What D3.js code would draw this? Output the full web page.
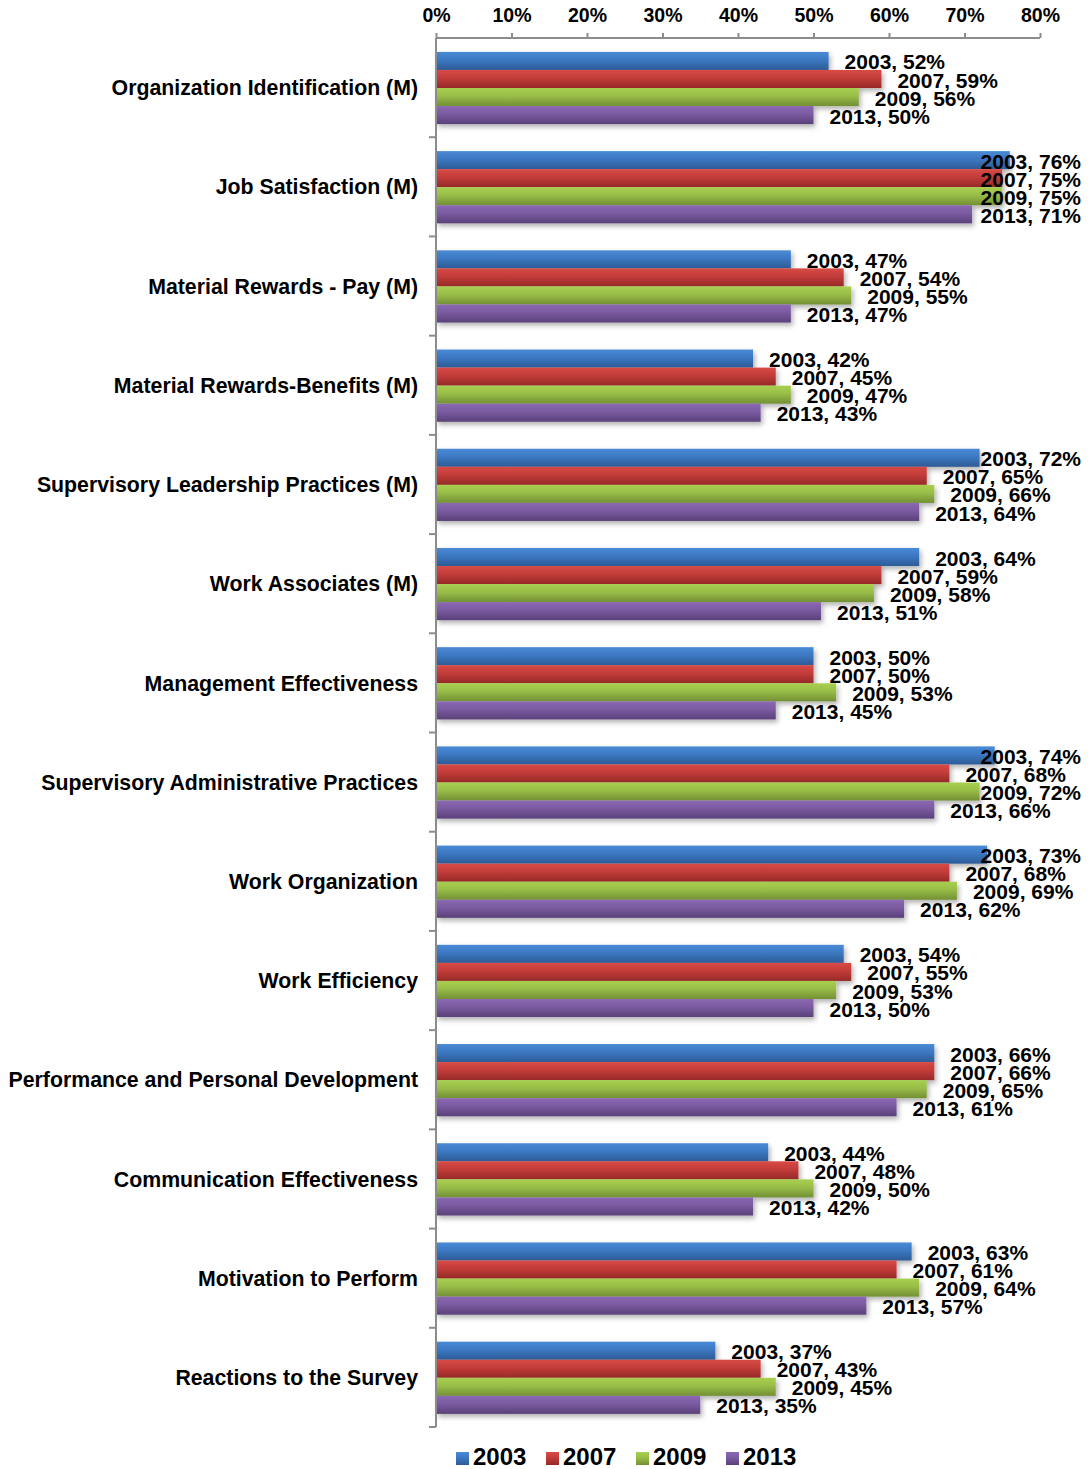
<!DOCTYPE html>
<html>
<head>
<meta charset="utf-8">
<script src="https://cdn.jsdelivr.net/npm/d3@7"></script>
<style>
  html, body { margin: 0; padding: 0; background: #fff; }
  svg { display: block; font-family: "Liberation Sans", Arial, sans-serif; font-weight: bold; }
</style>
</head>
<body>
<svg id="chart" width="1089" height="1469"></svg>
<script>
// Survey dimensions, top to bottom
const categories = [
  "Organization Identification (M)",
  "Job Satisfaction (M)",
  "Material Rewards - Pay (M)",
  "Material Rewards-Benefits (M)",
  "Supervisory Leadership Practices (M)",
  "Work Associates (M)",
  "Management Effectiveness",
  "Supervisory Administrative Practices",
  "Work Organization",
  "Work Efficiency",
  "Performance and Personal Development",
  "Communication Effectiveness",
  "Motivation to Perform",
  "Reactions to the Survey"
];

const years = ["2003", "2007", "2009", "2013"];

// Percent favorable per survey year
const values2003 = [52, 76, 47, 42, 72, 64, 50, 74, 73, 54, 66, 44, 63, 37];
const values2007 = [59, 75, 54, 45, 65, 59, 50, 68, 68, 55, 66, 48, 61, 43];
const values2009 = [56, 75, 55, 47, 66, 58, 53, 72, 69, 53, 65, 50, 64, 45];
const values2013 = [50, 71, 47, 43, 64, 51, 45, 66, 62, 50, 61, 42, 57, 35];

const tickValues = [0, 10, 20, 30, 40, 50, 60, 70, 80];

const seriesValues = [values2003, values2007, values2009, values2013];

// top / mid / bottom shades for each series' bar gradient
const shades = [
  ["#4a8ad6", "#3c78c2", "#2d5b96"],
  ["#d84a46", "#c23c39", "#962a28"],
  ["#a9cf50", "#98bd47", "#738f35"],
  ["#8b68b3", "#7a5aa0", "#5a4179"]
];

const svg = d3.select("#chart");
const defs = svg.append("defs");

shades.forEach((s, i) => {
  const g = defs.append("linearGradient")
    .attr("id", "grad" + i).attr("x1", 0).attr("y1", 0).attr("x2", 0).attr("y2", 1);
  g.append("stop").attr("offset", "0%").attr("stop-color", s[0]);
  g.append("stop").attr("offset", "45%").attr("stop-color", s[1]);
  g.append("stop").attr("offset", "100%").attr("stop-color", s[2]);
});

const shadow = defs.append("filter").attr("id", "shadow")
  .attr("x", "-5%").attr("y", "-20%").attr("width", "115%").attr("height", "160%");
shadow.append("feDropShadow").attr("dx", 2).attr("dy", 3)
  .attr("stdDeviation", 2.5).attr("flood-color", "#000").attr("flood-opacity", 0.3);

const x = d3.scaleLinear().domain([0, 80]).range([436, 1040]);
const y = d3.scaleBand().domain(categories).range([38, 1427]).padding(0);
const bw = y.bandwidth();
const ySub = d3.scaleBand().domain(years).range([bw * 0.14, bw * 0.868]).padding(0);

const labelRight = 1081;

// Bars
const groups = svg.append("g").selectAll("g.cat")
  .data(categories)
  .join("g")
  .attr("class", "cat")
  .attr("transform", d => `translate(0,${y(d)})`)
  .attr("filter", "url(#shadow)");

groups.each(function (cat, ci) {
  const g = d3.select(this);
  years.forEach((yr, si) => {
    g.append("rect")
      .attr("x", x(0))
      .attr("y", ySub(yr))
      .attr("width", x(seriesValues[si][ci]) - x(0))
      .attr("height", ySub.bandwidth())
      .attr("fill", `url(#grad${si})`);
  });
});

// Axes
const axisColor = "#8c8c8c";
const topAxis = svg.append("g")
  .attr("transform", `translate(0,${y.range()[0]})`)
  .call(d3.axisTop(x).tickValues(tickValues).tickSize(5).tickPadding(11).tickFormat(d => d + "%"));
topAxis.select(".domain").attr("stroke", axisColor).attr("stroke-width", 2)
  .attr("d", `M${x(0)},0H${x(80)}`);
topAxis.selectAll(".tick line").attr("stroke", axisColor).attr("stroke-width", 2);
topAxis.selectAll(".tick text")
  .attr("font-size", 19.5)
  .attr("font-family", "'Liberation Sans', Arial, sans-serif")
  .attr("font-weight", "bold")
  .attr("fill", "#000");

const leftAxis = svg.append("g")
  .attr("transform", `translate(${x(0)},0)`)
  .call(d3.axisLeft(y).tickSize(0).tickFormat(""));
leftAxis.select(".domain").attr("stroke", axisColor).attr("stroke-width", 2)
  .attr("d", `M0,${y.range()[0]}V${y.range()[1]}`);

// category separators on the left axis
const sepYs = d3.range(categories.length + 1).map(i => y.range()[0] + i * y.step());
svg.append("g").selectAll("line")
  .data(sepYs.slice(1))
  .join("line")
  .attr("x1", x(0) - 7).attr("x2", x(0))
  .attr("y1", d => d).attr("y2", d => d)
  .attr("stroke", axisColor).attr("stroke-width", 2);

// Category labels
svg.append("g").selectAll("text")
  .data(categories)
  .join("text")
  .attr("x", 418)
  .attr("y", d => y(d) + bw / 2)
  .attr("dy", "0.36em")
  .attr("text-anchor", "end")
  .attr("font-size", 21.3)
  .attr("fill", "#000")
  .text(d => d);

// Data labels: "year, value%" just past the bar end, kept inside the chart
const labelLayer = svg.append("g");
categories.forEach((cat, ci) => {
  years.forEach((yr, si) => {
    const v = seriesValues[si][ci];
    const t = labelLayer.append("text")
      .attr("font-size", 21)
      .attr("dy", "0.36em")
      .attr("fill", "#000")
      .text(`${yr}, ${v}%`);
    const w = t.node().getComputedTextLength();
    const lx = Math.min(x(v) + 16, labelRight - w);
    const ly = y(cat) + ySub(yr) + ySub.bandwidth() / 2 + 1;
    t.attr("x", lx).attr("y", ly);
  });
});

// Legend
const legend = svg.append("g").selectAll("g")
  .data(years)
  .join("g")
  .attr("transform", (d, i) => `translate(${456 + i * 90},1452)`);
legend.append("rect")
  .attr("width", 13).attr("height", 13)
  .attr("fill", (d, i) => `url(#grad${i})`);
legend.append("text")
  .attr("x", 17)
  .attr("y", 13)
  .attr("font-size", 24)
  .attr("fill", "#000")
  .text(d => d);
</script>
</body>
</html>
